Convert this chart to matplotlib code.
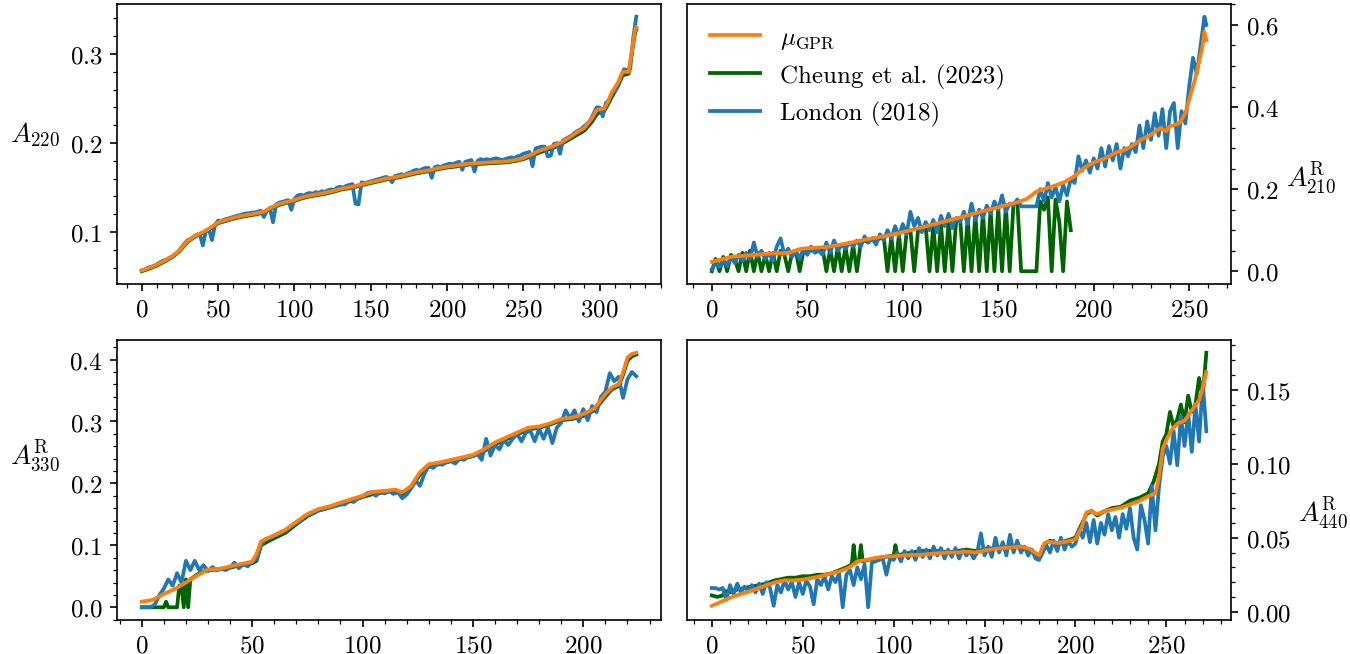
import numpy as np
import matplotlib
matplotlib.use("Agg")
from matplotlib import pyplot as plt
from matplotlib.ticker import MultipleLocator

plt.rcParams['font.family'] = 'serif'
plt.rcParams['font.serif'] = ['cmr10']
plt.rcParams['mathtext.fontset'] = 'cm'
plt.rcParams['axes.formatter.use_mathtext'] = True
plt.rcParams['font.size'] = 12

C_GPR = '#ff7f0e'
C_CHE = 'darkgreen'
C_LON = '#1f77b4'
LW = 1.8

# ---------------- A220 ----------------
p1_gpr_x = [0, 5, 10, 15, 20, 25, 30, 35, 40, 45, 50, 55, 60, 65, 70, 75, 80, 85, 90, 95,
            100, 105, 110, 115, 120, 125, 130, 135, 140, 145, 150, 155, 160, 165, 170, 175,
            180, 185, 190, 195, 200, 205, 210, 215, 220, 225, 230, 235, 240, 245, 250, 255,
            260, 265, 270, 275, 280, 285, 290, 295, 298, 300, 303, 305, 308, 312, 315, 317,
            319, 321, 323, 324]
p1_gpr = [0.057, 0.060, 0.0635, 0.068, 0.073, 0.080, 0.090, 0.096, 0.100, 0.105, 0.111, 0.1135,
          0.116, 0.118, 0.1195, 0.121, 0.123, 0.128, 0.1315, 0.134, 0.136, 0.139, 0.141, 0.1425,
          0.144, 0.146, 0.1485, 0.150, 0.152, 0.154, 0.156, 0.158, 0.160, 0.1615, 0.163, 0.165,
          0.167, 0.1685, 0.170, 0.172, 0.1735, 0.1745, 0.176, 0.177, 0.1775, 0.178, 0.1785,
          0.179, 0.1795, 0.181, 0.183, 0.187, 0.191, 0.194, 0.197, 0.201, 0.206, 0.212, 0.217,
          0.228, 0.237, 0.238, 0.239, 0.245, 0.257, 0.268, 0.280, 0.280, 0.280, 0.303, 0.325,
          0.330]
p1_che = [0.056, 0.059, 0.0625, 0.067, 0.072, 0.079, 0.089, 0.095, 0.099, 0.104, 0.110, 0.1125,
          0.115, 0.117, 0.1185, 0.120, 0.122, 0.127, 0.1305, 0.133, 0.135, 0.138, 0.140, 0.1415,
          0.143, 0.145, 0.1475, 0.149, 0.151, 0.153, 0.155, 0.157, 0.159, 0.1605, 0.162, 0.164,
          0.166, 0.1675, 0.169, 0.171, 0.1725, 0.1735, 0.175, 0.176, 0.1765, 0.177, 0.1775,
          0.178, 0.1785, 0.180, 0.182, 0.185, 0.189, 0.192, 0.195, 0.199, 0.204, 0.209, 0.214,
          0.224, 0.232, 0.235, 0.236, 0.242, 0.252, 0.264, 0.276, 0.277, 0.278, 0.300, 0.322,
          0.328]
p1_lon = [0.057, 0.058, 0.060, 0.061, 0.062, 0.064, 0.066, 0.068, 0.069, 0.071, 0.072, 0.075,
          0.078, 0.083, 0.087, 0.091, 0.092, 0.095, 0.097, 0.098, 0.085, 0.101, 0.103, 0.091,
          0.108, 0.113, 0.112, 0.114, 0.115, 0.116, 0.117, 0.118, 0.119, 0.120, 0.121, 0.121,
          0.122, 0.122, 0.123, 0.124, 0.117, 0.124, 0.127, 0.111, 0.131, 0.133, 0.134, 0.135,
          0.136, 0.125, 0.137, 0.141, 0.142, 0.141, 0.143, 0.144, 0.143, 0.145, 0.144, 0.146,
          0.145, 0.147, 0.148, 0.147, 0.150, 0.151, 0.150, 0.152, 0.153, 0.154, 0.132, 0.131,
          0.156, 0.155, 0.156, 0.157, 0.158, 0.159, 0.160, 0.161, 0.162, 0.161, 0.156, 0.163,
          0.164, 0.165, 0.164, 0.166, 0.167, 0.169, 0.170, 0.169, 0.171, 0.172, 0.172, 0.161,
          0.173, 0.174, 0.173, 0.175, 0.176, 0.177, 0.176, 0.178, 0.179, 0.170, 0.179, 0.180,
          0.181, 0.168, 0.180, 0.182, 0.181, 0.182, 0.181, 0.182, 0.183, 0.182, 0.181, 0.182,
          0.183, 0.184, 0.183, 0.185, 0.186, 0.188, 0.189, 0.190, 0.174, 0.194, 0.195, 0.196,
          0.196, 0.185, 0.186, 0.199, 0.200, 0.188, 0.203, 0.205, 0.207, 0.209, 0.212, 0.214,
          0.216, 0.219, 0.222, 0.226, 0.233, 0.240, 0.240, 0.230, 0.245, 0.248, 0.256, 0.258,
          0.266, 0.275, 0.283, 0.282, 0.283, 0.318, 0.342]

# ---------------- A210 R ----------------
p2_gpr_x = [0, 10, 20, 30, 40, 47, 50, 60, 70, 80, 90, 100, 110, 120, 130, 140, 150, 160, 165,
            170, 175, 180, 185, 190, 195, 200, 205, 212, 215, 220, 225, 229, 235, 238, 240, 245,
            248, 250, 253, 255, 257, 258, 259]
p2_gpr = [0.023, 0.035, 0.039, 0.043, 0.045, 0.055, 0.056, 0.059, 0.067, 0.077, 0.085, 0.095,
          0.107, 0.119, 0.131, 0.144, 0.156, 0.168, 0.176, 0.194, 0.202, 0.209, 0.218, 0.232,
          0.252, 0.265, 0.273, 0.290, 0.293, 0.305, 0.321, 0.330, 0.349, 0.341, 0.353, 0.361,
          0.385, 0.418, 0.466, 0.506, 0.547, 0.583, 0.563]
p2_lon = [0.005, 0.020, 0.010, 0.030, 0.012, 0.035, 0.020, 0.040, 0.025, 0.045, 0.030, 0.070,
          0.035, 0.050, 0.030, 0.045, 0.025, 0.060, 0.080, 0.040, 0.055, 0.035, 0.050, 0.030,
          0.055, 0.040, 0.060, 0.045, 0.050, 0.040, 0.070, 0.045, 0.075, 0.050, 0.065, 0.055,
          0.070, 0.060, 0.075, 0.060, 0.085, 0.070, 0.080, 0.065, 0.090, 0.075, 0.100, 0.080,
          0.110, 0.085, 0.115, 0.090, 0.145, 0.110, 0.130, 0.095, 0.120, 0.100, 0.125, 0.095,
          0.135, 0.110, 0.140, 0.105, 0.130, 0.120, 0.145, 0.115, 0.165, 0.125, 0.150, 0.130,
          0.160, 0.140, 0.170, 0.150, 0.185, 0.145, 0.165, 0.160, 0.175, 0.158, 0.158, 0.158,
          0.158, 0.158, 0.200, 0.170, 0.215, 0.180, 0.205, 0.170, 0.210, 0.185, 0.225, 0.215,
          0.280, 0.245, 0.270, 0.240, 0.275, 0.250, 0.300, 0.255, 0.305, 0.270, 0.310, 0.250,
          0.300, 0.280, 0.310, 0.290, 0.355, 0.300, 0.365, 0.320, 0.385, 0.330, 0.395, 0.300,
          0.390, 0.410, 0.300, 0.390, 0.360, 0.450, 0.520, 0.480, 0.550, 0.620, 0.600]
p2_che = [0.000, 0.030, 0.000, 0.035, 0.000, 0.040, 0.030, 0.000, 0.045, 0.000, 0.050, 0.000,
          0.045, 0.000, 0.040, 0.000, 0.045, 0.000, 0.050, 0.040, 0.000, 0.045, 0.050, 0.000,
          0.050, 0.055, 0.050, 0.055, 0.050, 0.055, 0.000, 0.055, 0.000, 0.060, 0.000, 0.060,
          0.000, 0.065, 0.000, 0.070, 0.075, 0.070, 0.080, 0.075, 0.080, 0.085, 0.000, 0.085,
          0.000, 0.090, 0.000, 0.095, 0.100, 0.000, 0.100, 0.105, 0.110, 0.000, 0.110, 0.000,
          0.115, 0.000, 0.120, 0.000, 0.125, 0.130, 0.000, 0.130, 0.000, 0.140, 0.000, 0.145,
          0.000, 0.150, 0.000, 0.155, 0.000, 0.160, 0.000, 0.165, 0.170, 0.000, 0.000, 0.000,
          0.000, 0.000, 0.170, 0.150, 0.180, 0.000, 0.175, 0.120, 0.000, 0.170, 0.100]

# ---------------- A330 R ----------------
p3_gpr_x = [0, 5, 10, 15, 20, 25, 30, 35, 40, 45, 50, 52, 54, 58, 65, 70, 75, 80, 85, 90, 95,
            100, 105, 110, 115, 118, 122, 126, 130, 135, 140, 145, 150, 155, 160, 165, 170,
            175, 180, 185, 190, 195, 200, 205, 210, 213, 216, 218, 220, 222, 224]
p3_gpr = [0.009, 0.012, 0.0215, 0.0296, 0.040, 0.051, 0.061, 0.062, 0.066, 0.070, 0.0737,
          0.086, 0.1065, 0.113, 0.125, 0.138, 0.1505, 0.1586, 0.163, 0.169, 0.1747, 0.180,
          0.1866, 0.188, 0.190, 0.1855, 0.196, 0.218, 0.231, 0.234, 0.238, 0.242, 0.246, 0.255,
          0.266, 0.274, 0.282, 0.290, 0.292, 0.297, 0.304, 0.306, 0.312, 0.321, 0.344, 0.355,
          0.360, 0.379, 0.403, 0.409, 0.411]
p3_lon = [0.000, 0.000, 0.000, 0.005, 0.020, 0.030, 0.045, 0.035, 0.055, 0.040, 0.075, 0.060,
          0.075, 0.060, 0.068, 0.058, 0.065, 0.060, 0.062, 0.060, 0.064, 0.072, 0.063, 0.070,
          0.066, 0.074, 0.078, 0.100, 0.110, 0.112, 0.115, 0.118, 0.122, 0.126, 0.132, 0.136,
          0.140, 0.148, 0.150, 0.152, 0.157, 0.158, 0.160, 0.162, 0.164, 0.166, 0.166, 0.172,
          0.170, 0.176, 0.178, 0.184, 0.186, 0.180, 0.186, 0.184, 0.188, 0.183, 0.186, 0.176,
          0.182, 0.192, 0.205, 0.196, 0.215, 0.228, 0.225, 0.232, 0.230, 0.234, 0.236, 0.232,
          0.240, 0.238, 0.244, 0.244, 0.248, 0.238, 0.272, 0.245, 0.262, 0.255, 0.270, 0.262,
          0.272, 0.280, 0.268, 0.282, 0.285, 0.268, 0.288, 0.272, 0.290, 0.265, 0.290, 0.298,
          0.318, 0.305, 0.318, 0.300, 0.320, 0.302, 0.325, 0.315, 0.340, 0.348, 0.378, 0.365,
          0.372, 0.338, 0.368, 0.380, 0.373]
p3_che_x = [0, 4, 8, 10, 11, 12, 14, 16, 17, 18, 19, 20, 21, 22, 24, 26, 28, 30, 35, 40, 45,
            50, 52, 54, 58, 65, 70, 75, 80, 85, 90, 95, 100, 105, 110, 115, 118, 122, 126, 130,
            135, 140, 145, 150, 155, 160, 165, 170, 175, 180, 185, 190, 195, 200, 205, 210,
            213, 216, 218, 220, 222, 224]
p3_che = [0.0, 0.0, 0.0, 0.0, 0.009, 0.0, 0.0, 0.0, 0.035, 0.035, 0.0, 0.045, 0.0, 0.045,
          0.050, 0.055, 0.058, 0.060, 0.061, 0.064, 0.068, 0.071, 0.075, 0.100, 0.108, 0.120,
          0.134, 0.147, 0.156, 0.161, 0.166, 0.172, 0.178, 0.183, 0.186, 0.188, 0.182, 0.193,
          0.214, 0.228, 0.231, 0.236, 0.240, 0.244, 0.252, 0.263, 0.271, 0.279, 0.287, 0.290,
          0.295, 0.302, 0.304, 0.309, 0.318, 0.340, 0.352, 0.357, 0.375, 0.398, 0.405, 0.408]

# ---------------- A440 R ----------------
p4_gpr_x = [0, 5, 10, 15, 20, 25, 30, 35, 40, 45, 50, 55, 60, 65, 70, 75, 78, 80, 85, 90, 95,
            100, 105, 110, 115, 120, 125, 130, 135, 140, 145, 150, 155, 160, 165, 170, 175,
            180, 183, 185, 190, 195, 200, 203, 206, 208, 212, 216, 220, 225, 230, 235, 240,
            244, 246, 248, 250, 253, 256, 260, 264, 268, 270, 272]
p4_gpr = [0.004, 0.0067, 0.0094, 0.0116, 0.0134, 0.0156, 0.0179, 0.020, 0.0212, 0.0212, 0.0217,
          0.0228, 0.024, 0.0257, 0.0272, 0.0295, 0.032, 0.034, 0.035, 0.0364, 0.0373, 0.0375,
          0.038, 0.0384, 0.0384, 0.039, 0.0395, 0.040, 0.040, 0.0406, 0.040, 0.0413, 0.0424,
          0.043, 0.0435, 0.044, 0.0424, 0.038, 0.0464, 0.0473, 0.0464, 0.0473, 0.049, 0.0558,
          0.067, 0.068, 0.066, 0.068, 0.069, 0.0703, 0.0725, 0.0748, 0.078, 0.080, 0.0915,
          0.110, 0.116, 0.123, 0.127, 0.129, 0.136, 0.143, 0.151, 0.162]
p4_lon = [0.016, 0.016, 0.015, 0.016, 0.008, 0.018, 0.012, 0.019, 0.013, 0.017, 0.014, 0.018,
          0.013, 0.019, 0.012, 0.020, 0.016, 0.004, 0.018, 0.013, 0.021, 0.015, 0.020, 0.010,
          0.020, 0.012, 0.021, 0.017, 0.005, 0.022, 0.018, 0.024, 0.015, 0.024, 0.020, 0.026,
          0.003, 0.025, 0.028, 0.018, 0.030, 0.022, 0.032, 0.003, 0.033, 0.034, 0.035, 0.036,
          0.025, 0.036, 0.035, 0.040, 0.034, 0.041, 0.036, 0.041, 0.035, 0.043, 0.037, 0.042,
          0.036, 0.044, 0.038, 0.043, 0.036, 0.042, 0.037, 0.043, 0.036, 0.042, 0.038, 0.041,
          0.036, 0.040, 0.053, 0.038, 0.044, 0.037, 0.050, 0.040, 0.047, 0.038, 0.052, 0.040,
          0.048, 0.040, 0.044, 0.038, 0.042, 0.036, 0.035, 0.040, 0.045, 0.040, 0.048, 0.041,
          0.050, 0.042, 0.048, 0.044, 0.046, 0.056, 0.050, 0.060, 0.047, 0.062, 0.046, 0.060,
          0.052, 0.066, 0.055, 0.064, 0.050, 0.066, 0.056, 0.070, 0.050, 0.042, 0.072, 0.062,
          0.046, 0.085, 0.055, 0.085, 0.105, 0.112, 0.100, 0.122, 0.099, 0.132, 0.112, 0.134,
          0.108, 0.140, 0.115, 0.155, 0.122]
p4_che_x = [0, 3, 6, 8, 10, 14, 18, 22, 26, 30, 34, 38, 42, 46, 50, 54, 58, 62, 66, 70, 74, 77,
            78, 79, 81, 82, 83, 86, 90, 95, 100, 101, 102, 105, 110, 115, 120, 125, 130, 135,
            140, 145, 150, 155, 160, 165, 170, 175, 180, 183, 186, 190, 195, 200, 203, 206, 209,
            212, 216, 220, 225, 230, 235, 240, 243, 246, 248, 250, 252, 254, 256, 258, 260, 262,
            264, 266, 268, 270, 272]
p4_che = [0.011, 0.010, 0.011, 0.014, 0.013, 0.015, 0.016, 0.017, 0.018, 0.019, 0.021, 0.022,
          0.023, 0.023, 0.024, 0.024, 0.025, 0.025, 0.026, 0.028, 0.030, 0.032, 0.045, 0.033,
          0.035, 0.045, 0.034, 0.035, 0.036, 0.037, 0.038, 0.045, 0.038, 0.039, 0.040, 0.041,
          0.041, 0.041, 0.040, 0.041, 0.042, 0.041, 0.042, 0.043, 0.043, 0.044, 0.044, 0.042,
          0.037, 0.046, 0.048, 0.046, 0.048, 0.050, 0.058, 0.066, 0.068, 0.065, 0.068, 0.070,
          0.071, 0.075, 0.077, 0.080, 0.088, 0.100, 0.115, 0.120, 0.135, 0.125, 0.130, 0.140,
          0.128, 0.146, 0.135, 0.140, 0.158, 0.145, 0.175]


def every_other(n):
    # index positions of a series sampled every second point, last one included
    idx = list(range(0, n, 2))
    if idx[-1] != n - 1:
        idx.append(n - 1)
    return idx


panels = [
    dict(gx=p1_gpr_x, g=p1_gpr, cx=p1_gpr_x, c=p1_che, lx=every_other(325), l=p1_lon,
         label=r'$A_{220}$', right=False, lab=(-0.151, 0.539)),
    dict(gx=p2_gpr_x, g=p2_gpr, cx=list(range(0, 189, 2)), c=p2_che, lx=every_other(260), l=p2_lon,
         label=r'$A^{\rm R}_{210}$', right=True, lab=(1.147, 0.446)),
    dict(gx=p3_gpr_x, g=p3_gpr, cx=p3_che_x, c=p3_che, lx=every_other(225), l=p3_lon,
         label=r'$A^{\rm R}_{330}$', right=False, lab=(-0.151, 0.589)),
    dict(gx=p4_gpr_x, g=p4_gpr, cx=p4_che_x, c=p4_che, lx=every_other(273), l=p4_lon,
         label=r'$A^{\rm R}_{440}$', right=True, lab=(1.169, 0.45)),
]

fig, axes = plt.subplots(2, 2, figsize=(9.0, 655 / 150), dpi=150)
fig.subplots_adjust(left=0.0867, right=0.9119, top=0.9924, bottom=0.0519,
                    wspace=0.048, hspace=0.2)

for ax, p in zip(axes.flat, panels):
    hc, = ax.plot(p['cx'], p['c'], color=C_CHE, lw=LW, zorder=1)
    hl, = ax.plot(p['lx'], p['l'], color=C_LON, lw=LW, zorder=2)
    hg, = ax.plot(p['gx'], p['g'], color=C_GPR, lw=LW, zorder=3)
    ax.xaxis.set_major_locator(MultipleLocator(50))
    ax.minorticks_on()
    ax.set_ylabel(p['label'], rotation=0, ha='center', va='center', fontsize=13)
    if p['right']:
        ax.yaxis.tick_right()
        ax.yaxis.set_label_position('right')
    ax.yaxis.set_label_coords(*p['lab'])
    handles = [hg, hc, hl]

axes[0, 1].legend(handles, [r'$\mu_{\rm GPR}$', 'Cheung et al. (2023)', 'London (2018)'],
                  loc='upper left', frameon=False)

fig.savefig('out.png', dpi=150)
